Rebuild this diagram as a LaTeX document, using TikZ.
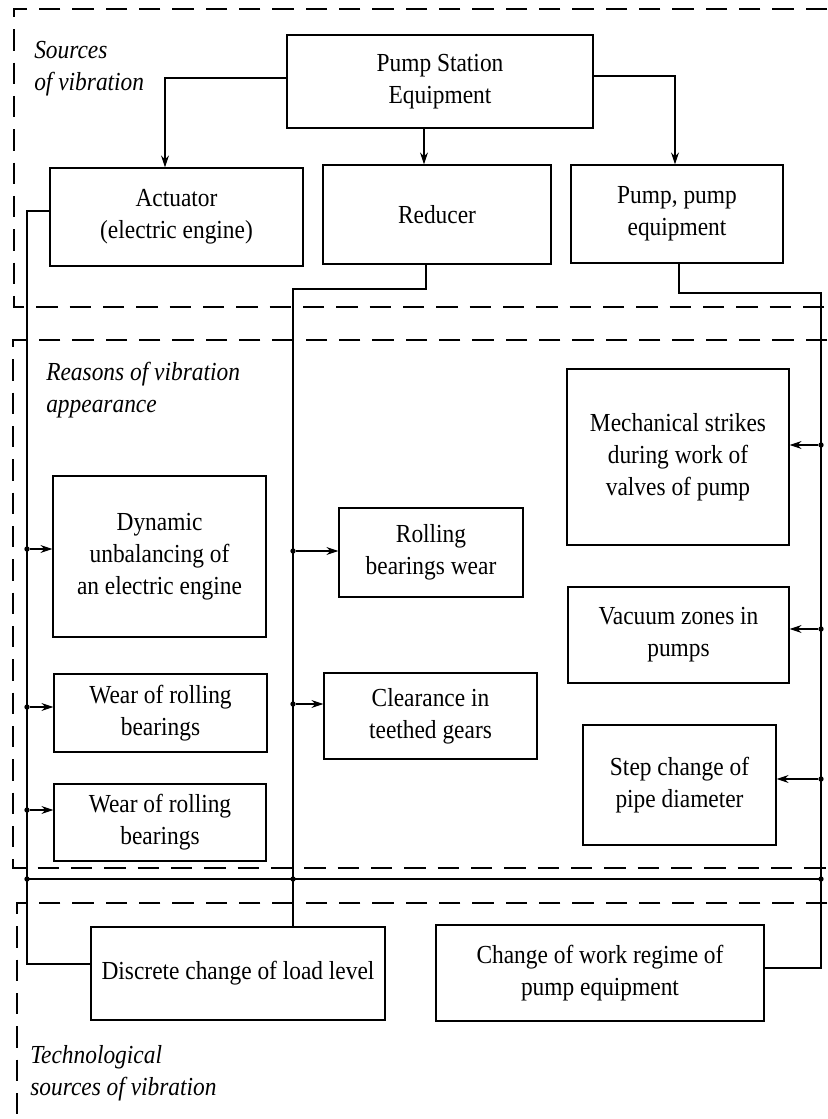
\documentclass[tikz,border=0pt]{standalone}
\usepackage{fontspec}
\setmainfont{Liberation Serif}[FakeStretch=0.9]
\usetikzlibrary{arrows.meta}

\begin{document}
\begin{tikzpicture}[x=0.75pt,y=0.75pt,yscale=-1,xscale=1,
  box/.style={draw,line width=0.9pt,align=center,inner sep=0.75pt,font=\fontsize{19.5}{24}\selectfont},
  lbl/.style={anchor=north west,align=left,inner sep=0pt,font=\fontsize{19.5}{24}\selectfont\itshape},
  zone/.style={line width=0.9pt,dash pattern={on 16pt off 9pt}},
  wire/.style={line width=0.9pt},
  arr/.style={wire,-{Stealth[length=9pt,width=6pt]}},
  dot/.style={circle,fill,inner sep=0pt,minimum size=4pt}]
\useasboundingbox (0,0) rectangle (827,1119);

%Dashed Lines
\draw [zone] (827,9) -- (14,9) -- (14,307) -- (827,307) ;
\draw [zone] (827,340) -- (13,340) -- (13,868) -- (827,868) ;
\draw [zone] (827,903) -- (17,903) -- (17,1119) ;

% Text Node
\node [lbl] (srcl) at (34,41) {Sources\\of vibration};
% Text Node
\node [lbl] (rsnl) at (46,362) {Reasons of vibration\\appearance};
% Text Node
\node [lbl] (tecl) at (30,1045) {Technological\\sources of vibration};

% Text Node
\node [box,minimum width=229.5pt,minimum height=69.75pt] (pse) at (440,81.5) {Pump Station\\Equipment};
% Text Node
\node [box,minimum width=189.75pt,minimum height=73.5pt] (act) at (176.5,217) {Actuator\\(electric engine)};
% Text Node
\node [box,minimum width=171pt,minimum height=74.25pt] (red) at (437,214.5) {Reducer};
% Text Node
\node [box,minimum width=159pt,minimum height=73.5pt] (pump) at (677,214) {Pump, pump\\equipment};
% Text Node
\node [box,minimum width=159.75pt,minimum height=120.75pt] (dyn) at (159.5,556.5) {Dynamic\\unbalancing of\\an electric engine};
% Text Node
\node [box,minimum width=159.75pt,minimum height=58.5pt] (wr1) at (160.5,713) {Wear of rolling\\bearings};
% Text Node
\node [box,minimum width=159pt,minimum height=57.75pt] (wr2) at (160,822.5) {Wear of rolling\\bearings};
% Text Node
\node [box,minimum width=138pt,minimum height=66.75pt] (roll) at (431,552.5) {Rolling\\bearings wear};
% Text Node
\node [box,minimum width=159.75pt,minimum height=64.5pt] (clr) at (430.5,716) {Clearance in\\teethed gears};
% Text Node
\node [box,minimum width=166.5pt,minimum height=132pt] (mech) at (678,457) {Mechanical strikes\\during work of\\valves of pump};
% Text Node
\node [box,minimum width=165.75pt,minimum height=72pt] (vac) at (678.5,635) {Vacuum zones in\\pumps};
% Text Node
\node [box,minimum width=144.75pt,minimum height=90pt] (step) at (679.5,785) {Step change of\\pipe diameter};
% Text Node
\node [box,minimum width=220.5pt,minimum height=69.75pt] (disc) at (238,973.5) {Discrete change of load level};
% Text Node
\node [box,minimum width=246pt,minimum height=72pt] (chg) at (600,973) {Change of work regime of\\pump equipment};

%Junctions
\node [dot] (d1) at (27,549) {};
\node [dot] (d2) at (27,707) {};
\node [dot] (d3) at (27,810) {};
\node [dot] (d4) at (293,551) {};
\node [dot] (d5) at (293,704) {};
\node [dot] (d6) at (821,445) {};
\node [dot] (d7) at (821,629) {};
\node [dot] (d8) at (821,779) {};
\node [dot] (b1) at (27,879) {};
\node [dot] (b2) at (293,879) {};
\node [dot] (b3) at (821,879) {};

%Straight Lines
\coordinate (ta) at (165,78);
\coordinate (tb) at (424,128);
\coordinate (tc) at (675,76);
\draw [arr] (pse.west |- ta) -- (ta) -- (ta |- act.north) ;
\draw [arr] (tb |- pse.south) -- (tb |- red.north) ;
\draw [arr] (pse.east |- tc) -- (tc) -- (tc |- pump.north) ;

%Straight Lines
\coordinate (ca) at (27,211);
\coordinate (cb) at (27,964);
\draw [wire] (act.west |- ca) -- (ca) -- (cb) -- (cb -| disc.west) ;
\coordinate (cc) at (426,289);
\coordinate (cd) at (293,289);
\draw [wire] (cc |- red.south) -- (cc) -- (cd) -- (cd |- disc.north) ;
\coordinate (ce) at (679,293);
\coordinate (cf) at (821,293);
\coordinate (cg) at (821,968);
\draw [wire] (ce |- pump.south) -- (ce) -- (cf) -- (cg) -- (cg -| chg.east) ;
\draw [wire] (b1.center) -- (b3.center) ;

%Straight Lines
\draw [arr] (d1) -- (d1 -| dyn.west) ;
\draw [arr] (d2) -- (d2 -| wr1.west) ;
\draw [arr] (d3) -- (d3 -| wr2.west) ;
\draw [arr] (d4) -- (d4 -| roll.west) ;
\draw [arr] (d5) -- (d5 -| clr.west) ;
\draw [arr] (d6) -- (d6 -| mech.east) ;
\draw [arr] (d7) -- (d7 -| vac.east) ;
\draw [arr] (d8) -- (d8 -| step.east) ;

\end{tikzpicture}
\end{document}
